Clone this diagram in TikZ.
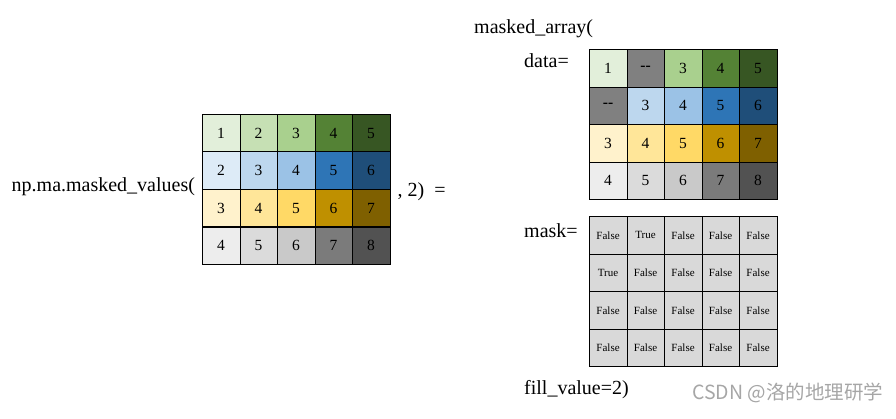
\documentclass[tikz,border=0pt]{standalone}
\usepackage{fontspec}
\setmainfont{Liberation Serif}
\newfontfamily\cjk{Noto Sans CJK SC}
\usetikzlibrary{positioning}

\definecolor{ga}{HTML}{E2EFDA}\definecolor{gb}{HTML}{C6E0B4}\definecolor{gc}{HTML}{A9D08E}
\definecolor{gd}{HTML}{548235}\definecolor{ge}{HTML}{375623}
\definecolor{ba}{HTML}{DDEBF7}\definecolor{bb}{HTML}{BDD7EE}\definecolor{bc}{HTML}{9BC2E6}
\definecolor{bd}{HTML}{2E75B6}\definecolor{be}{HTML}{1F4E79}
\definecolor{ya}{HTML}{FFF2CC}\definecolor{yb}{HTML}{FFE699}\definecolor{yc}{HTML}{FFD966}
\definecolor{yd}{HTML}{BF9000}\definecolor{ye}{HTML}{7F6000}
\definecolor{ka}{HTML}{EDEDED}\definecolor{kb}{HTML}{DBDBDB}\definecolor{kc}{HTML}{C9C9C9}
\definecolor{kd}{HTML}{7B7B7B}\definecolor{ke}{HTML}{525252}
\definecolor{masked}{HTML}{808080}\definecolor{maskfill}{HTML}{D9D9D9}
\definecolor{wmgray}{HTML}{A6A6A6}

\newcommand{\nomask}{\textbf{{-}{-}}}

\begin{document}
\begin{tikzpicture}[x=1pt, y=-1pt,
  cell/.style={draw, semithick, minimum width=37.5pt, minimum height=37.5pt,
               inner sep=0pt, font=\fontsize{15.5}{15.5}\selectfont},
  flag/.style={cell, fill=maskfill, font=\fontsize{11}{11}\selectfont},
  word/.style={anchor=base west, inner sep=0pt, font=\fontsize{20}{20}\selectfont}]
\useasboundingbox (0,0) rectangle (896,419);

% input array
\foreach \r/\row in {1/{1/ga,2/gb,3/gc,4/gd,5/ge},
                     2/{2/ba,3/bb,4/bc,5/bd,6/be},
                     3/{3/ya,4/yb,5/yc,6/yd,7/ye},
                     4/{4/ka,5/kb,6/kc,7/kd,8/ke}}
  \foreach \v/\fc [count=\c] in \row
    \node[cell, fill=\fc] (in-\r-\c) at ({202.3+37.5*(\c-0.5)}, {114.3+37.5*(\r-0.5)}) {\v};
\draw[line width=1.6pt] (in-3-1.south west) -- (in-3-5.south east);

% data of the result
\foreach \r/\row in {1/{1/ga,\nomask/masked,3/gc,4/gd,5/ge},
                     2/{\nomask/masked,3/bb,4/bc,5/bd,6/be},
                     3/{3/ya,4/yb,5/yc,6/yd,7/ye},
                     4/{4/ka,5/kb,6/kc,7/kd,8/ke}}
  \foreach \v/\fc [count=\c] in \row
    \node[cell, fill=\fc] (data-\r-\c) at ({589.3+37.5*(\c-0.5)}, {49.3+37.6*(\r-0.5)}) {\v};

% mask of the result
\foreach \r/\row in {1/{False,True,False,False,False},
                     2/{True,False,False,False,False},
                     3/{False,False,False,False,False},
                     4/{False,False,False,False,False}}
  \foreach \v [count=\c] in \row
    \node[flag] (mask-\r-\c) at ({589.3+37.5*(\c-0.5)}, {216.7+37.5*(\r-0.5)}) {\v};

\node[word] (call) at (11.5,192) {np.ma.masked\_values(};
\node[word] (eq) at (397.5,197) {, 2)\ \ =};
\node[word] (res) at (474,34) {masked\_array(};
\node[word] (datalbl) at (524,68) {data=};
\node[word] (masklbl) at (524,238) {mask=};
\node[word] (fill) at (524,394) {fill\_value=2)};
\node[anchor=base west, inner sep=0pt, text=wmgray, font=\fontsize{19.5}{19.5}\cjk]
  (mark) at (692,399) {CSDN @洛的地理研学};
\end{tikzpicture}
\end{document}
